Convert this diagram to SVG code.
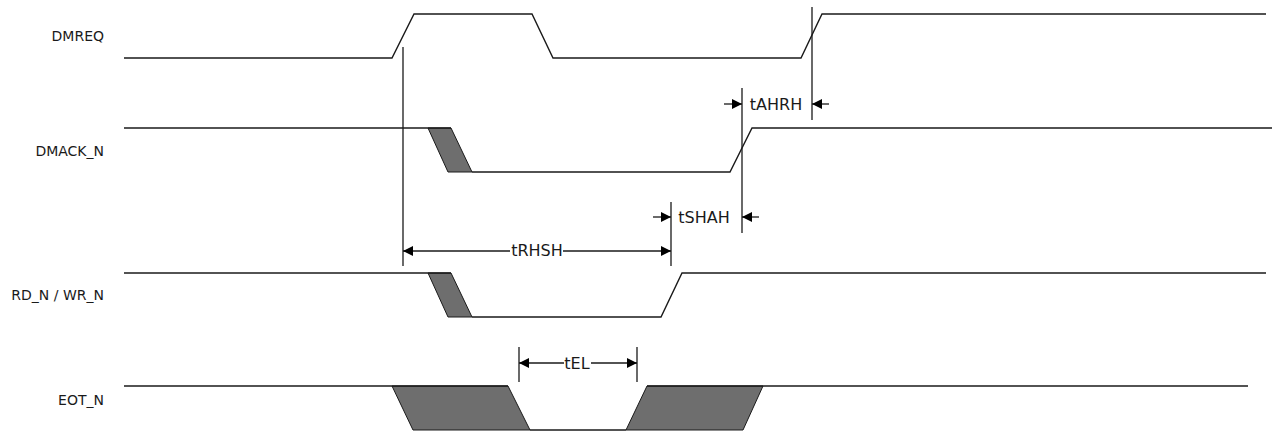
<svg xmlns="http://www.w3.org/2000/svg" width="1274" height="432" viewBox="0 0 1274 432">
<style>
.sig{fill:none;stroke:#1a1a1a;stroke-width:1.4;stroke-linejoin:miter}
.dim{fill:none;stroke:#1a1a1a;stroke-width:1.3}
.hatch{fill:#6e6e6e;stroke:#1a1a1a;stroke-width:1}
.lbl{font-family:"DejaVu Sans",sans-serif;font-size:14px;fill:#1a1a1a;text-anchor:end}
.tl{font-family:"DejaVu Sans",sans-serif;font-size:16px;fill:#1a1a1a;text-anchor:middle}
</style>
<defs>
<marker id="ah" markerUnits="userSpaceOnUse" markerWidth="11" markerHeight="11" refX="10" refY="5" orient="auto">
<path d="M0,0 L10,5 L0,10 z" fill="#000"/>
</marker>
</defs>
<rect width="1274" height="432" fill="#fff"/>

<g id="labels">
<text class="lbl" x="104" y="41">DMREQ</text>
<text class="lbl" x="104" y="156">DMACK_N</text>
<text class="lbl" x="104" y="300">RD_N / WR_N</text>
<text class="lbl" x="104" y="405">EOT_N</text>
</g>

<g id="DMREQ">
<path class="sig" d="M124,58 H392 L414,14 H532 L553,58 H801 L822,14 H1266"/>
</g>

<g id="DMACK_N">
<polygon class="hatch" points="428,128 451,128 472,172 448,172"/>
<path class="sig" d="M124,128 H451"/>
<path class="sig" d="M472,172 H730 L752,128 H1272"/>
</g>

<g id="RD_N_WR_N">
<polygon class="hatch" points="428,273 451,273 472,317 448,317"/>
<path class="sig" d="M124,273 H451"/>
<path class="sig" d="M472,317 H661 L682,273 H1266"/>
</g>

<g id="EOT_N">
<polygon class="hatch" points="392,386 508,386 530,430 413,430"/>
<polygon class="hatch" points="647,386 763,386 743,430 626,430"/>
<path class="sig" d="M124,386 H508"/>
<path class="sig" d="M530,430 H626"/>
<path class="sig" d="M647,386 H1248"/>
</g>

<g id="connectors">
<line class="dim" x1="403" y1="47" x2="403" y2="266"/>
<line class="dim" x1="812" y1="7" x2="812" y2="120"/>
<line class="dim" x1="742" y1="88" x2="742" y2="233"/>
<line class="dim" x1="671" y1="202" x2="671" y2="266"/>
<line class="dim" x1="519" y1="347" x2="519" y2="382"/>
<line class="dim" x1="637" y1="347" x2="637" y2="382"/>

<line class="dim" x1="724" y1="104" x2="742" y2="104" marker-end="url(#ah)"/>
<line class="dim" x1="829" y1="104" x2="812" y2="104" marker-end="url(#ah)"/>

<line class="dim" x1="653" y1="217" x2="671" y2="217" marker-end="url(#ah)"/>
<line class="dim" x1="759" y1="217" x2="742" y2="217" marker-end="url(#ah)"/>

<line class="dim" x1="510" y1="251" x2="403" y2="251" marker-end="url(#ah)"/>
<line class="dim" x1="563" y1="251" x2="671" y2="251" marker-end="url(#ah)"/>

<line class="dim" x1="564" y1="363" x2="519" y2="363" marker-end="url(#ah)"/>
<line class="dim" x1="591" y1="363" x2="637" y2="363" marker-end="url(#ah)"/>
</g>

<g id="timing-labels">
<text class="tl" x="776" y="110">tAHRH</text>
<text class="tl" x="704" y="223">tSHAH</text>
<text class="tl" x="537" y="256">tRHSH</text>
<text class="tl" x="577" y="369">tEL</text>
</g>
</svg>
